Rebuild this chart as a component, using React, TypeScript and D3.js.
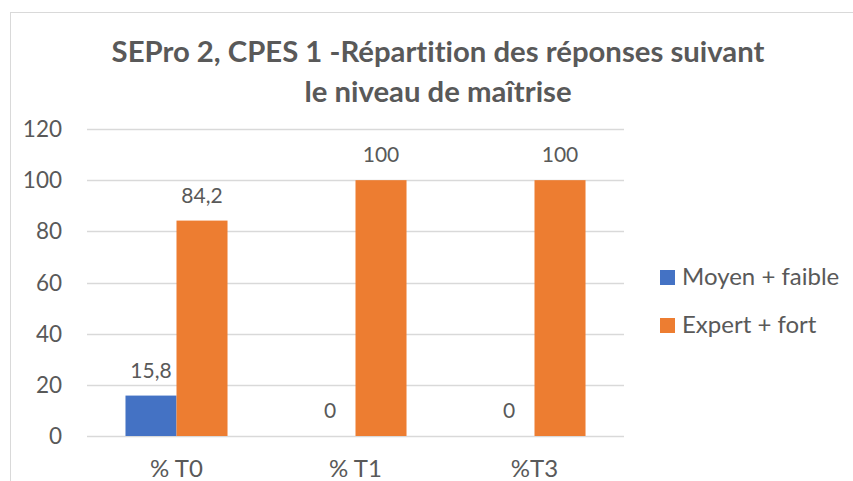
import React from "react";
import * as d3 from "d3";

const categories = ["% T0", "% T1", "%T3"];
const seriesNames = ["Moyen + faible", "Expert + fort"];
const moyenFaible = [15.8, 0, 0];
const expertFort = [84.2, 100, 100];
const yTicks = [0, 20, 40, 60, 80, 100, 120];
const colors = ["#4472C4", "#ED7D31"];
const titleLines = ["SEPro 2, CPES 1 -Répartition des réponses suivant", "le niveau de maîtrise"];

const W = 853;
const H = 481;
const FONT = "Lato, 'Open Sans', sans-serif";
const TXT = "#595959";

export default function App() {
  const plotLeft = 87;
  const plotRight = 624;
  const plotTop = 129;
  const plotBottom = 436;

  const x = d3.scaleBand<string>().domain(categories).range([plotLeft, plotRight]).paddingInner(0.43).paddingOuter(0.215);
  const sub = d3.scaleBand<number>().domain([0, 1]).range([0, x.bandwidth()]);
  const y = d3.scaleLinear().domain([0, 120]).range([plotBottom, plotTop]);
  const series = [moyenFaible, expertFort];
  const fmt = (v: number) => String(v).replace(".", ",");
  const base = { fontFamily: FONT, fill: TXT, style: { fontVariantLigatures: "none" as const } };

  return (
    <svg width={W} height={H} style={{ position: "absolute", left: 0, top: 0, background: "#fff" }}>
      <rect x={10.5} y={12.5} width={900} height={600} fill="#fff" stroke="#d9d9d9" strokeWidth={1} />
      {titleLines.map((t, i) => (
        <text key={i} {...base} x={438} y={62 + i * 40} textAnchor="middle" fontWeight={700} fontSize={29.3}>
          {t}
        </text>
      ))}
      {yTicks.map((t) => (
        <g key={t}>
          <line x1={plotLeft} x2={plotRight} y1={Math.round(y(t)) + 0.5} y2={Math.round(y(t)) + 0.5} stroke="#d9d9d9" strokeWidth={1.3} />
          <text {...base} x={62} y={y(t) + 8} textAnchor="end" fontSize={22.5}>
            {t}
          </text>
        </g>
      ))}
      {categories.map((c, ci) => (
        <g key={c}>
          {series.map((s, si) => {
            const bx = (x(c) as number) + (sub(si) as number);
            const bw = sub.bandwidth();
            return (
              <g key={si}>
                {s[ci] > 0 && (
                  <rect x={bx} y={y(s[ci])} width={bw} height={plotBottom - y(s[ci])} fill={colors[si]} />
                )}
                <text {...base} x={bx + bw / 2} y={y(s[ci]) - 18} textAnchor="middle" fontSize={21}>
                  {fmt(s[ci])}
                </text>
              </g>
            );
          })}
          <text {...base} x={(x(c) as number) + x.bandwidth() / 2} y={477} textAnchor="middle" fontSize={24}>
            {c}
          </text>
        </g>
      ))}
      {seriesNames.map((n, i) => (
        <g key={n}>
          <rect x={660} y={270 + i * 48} width={15} height={15} fill={colors[i]} />
          <text {...base} x={682} y={285 + i * 48} fontSize={24}>
            {n}
          </text>
        </g>
      ))}
    </svg>
  );
}
